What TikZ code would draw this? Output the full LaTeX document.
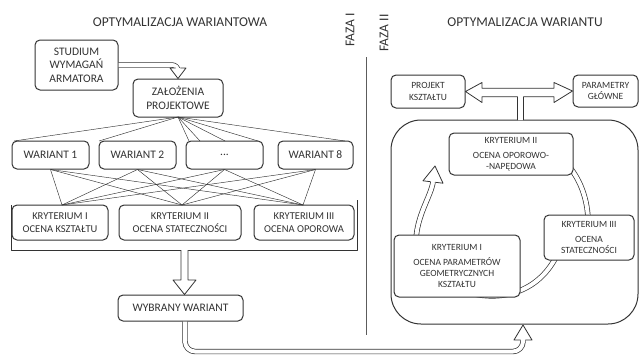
\documentclass[tikz,border=0pt]{standalone}
\usepackage{fontspec}
\setmainfont{Carlito}
\usetikzlibrary{calc}
\definecolor{ink}{HTML}{333333}
\begin{document}
\begin{tikzpicture}[x=1pt,y=-1pt, line join=round,
  box/.style={draw=ink, line width=1pt, rounded corners=5pt, fill=white, align=center, text=ink, inner sep=1pt},
  big/.style={font=\fontsize{11.5}{13.5}\selectfont},
  mid/.style={font=\fontsize{10.5}{12.5}\selectfont},
  sml/.style={font=\fontsize{9.5}{11.2}\selectfont},
  ttl/.style={text=ink, font=\fontsize{13.5}{15}\selectfont},
  web/.style={draw=ink, line width=0.45pt},
  dbl/.style={draw=ink, line width=0.7pt, double=white, double distance=4pt},
  blk/.style={draw=ink, line width=0.8pt}]
\useasboundingbox (0,0) rectangle (642,356);

% titles
\node[ttl] (t1) at (180,22) {OPTYMALIZACJA WARIANTOWA};
\node[ttl] (t2) at (525,22) {OPTYMALIZACJA WARIANTU};
\node[ttl, rotate=90] (f1) at (350,30) {FAZA I};
\node[ttl, rotate=90] (f2) at (384,33) {FAZA II};
\coordinate (d1) at (366,57);
\coordinate (d2) at (366,335);
\draw[ink!80, line width=0.6pt] (d1) -- (d2);

% left boxes
\node[box, big, minimum width=83pt, minimum height=50pt] (stud) at (76.5,65) {STUDIUM\\WYMAGAŃ\\ARMATORA};
\node[box, big, minimum width=90pt, minimum height=38pt] (zal) at (178,98) {ZAŁOŻENIA\\PROJEKTOWE};
\node[box, big, minimum width=77pt, minimum height=28pt] (w1) at (50.5,155) {WARIANT 1};
\node[box, big, minimum width=77pt, minimum height=28pt] (w2) at (137.5,155) {WARIANT 2};
\node[box, big, minimum width=77pt, minimum height=28pt] (w3) at (224.5,155) {...};
\node[box, big, minimum width=75pt, minimum height=28pt] (w8) at (315.5,155) {WARIANT 8};
\node[box, mid, minimum width=96pt, minimum height=35pt] (k1) at (60,222.5) {KRYTERIUM I\\OCENA KSZTAŁTU};
\node[box, mid, minimum width=122pt, minimum height=35pt] (k2) at (180,222.5) {KRYTERIUM II\\OCENA STATECZNOŚCI};
\node[box, mid, minimum width=100pt, minimum height=35pt] (k3) at (304,222.5) {KRYTERIUM III\\OCENA OPOROWA};
\node[box, big, minimum width=125pt, minimum height=26pt] (wyb) at (180.5,308) {WYBRANY WARIANT};

% web lines
\coordinate (ap) at (178,117);
\foreach \px in {14,99,189,200,225,258,345}
  \draw[web] (ap) -- (\px,141);
\coordinate (c1) at (62,205);
\coordinate (c2) at (182,205);
\coordinate (c3) at (303,205);
\foreach \w in {w1,w2,w3,w8}
  \foreach \c in {c1,c2,c3}
    \draw[web] (\w.south) -- (\c);

% frame around criteria
\coordinate (fa) at (11,205);
\coordinate (fb) at (11,250);
\coordinate (fc) at (357,250);
\coordinate (fd) at (357,200);
\draw[ink, line width=0.8pt] (fa) -- (fb) -- (fc) -- (fd);

% arrow studium -> zalozenia
\draw[dbl, rounded corners=6pt] (stud.east) -| (178,68);
\coordinate (zt) at (zal.north);
\fill[white] (170,68) -- (zt) -- (186,68) -- cycle;
\draw[blk] (175.65,68) -- (170,68) -- (zt) -- (186,68) -- (180.35,68);

% block arrow criteria -> wybrany
\coordinate (wt) at ($(wyb.north)+(4,0)$);
\fill[white] (181,250) -- (181,280) -- (173,280) -- (wt) -- (196,280) -- (188,280) -- (188,250) -- cycle;
\draw[blk] (181,250) -- (181,280) -- (173,280) -- (wt) -- (196,280) -- (188,280) -- (188,250);

% right part
\node[box, sml, minimum width=74pt, minimum height=33pt] (proj) at (428,91.5) {PROJEKT\\KSZTAŁTU};
\node[box, sml, minimum width=65pt, minimum height=32pt] (par) at (605.5,91) {PARAMETRY\\GŁÓWNE};
\node[draw=ink, line width=1pt, rounded corners=30pt, minimum width=247pt, minimum height=204pt, fill=white] (bigb) at (514.5,222) {};

% double headed block arrow with stem
\draw[blk, fill=white] (523.5,120) -- (523.5,96.7) -- (554,96.7) -- (554,102.5) -- (par.west) -- (554,82.5) -- (554,88.3) -- (482,88.3) -- (482,82.5) -- (proj.east) -- (482,102.5) -- (482,96.7) -- (517.5,96.7) -- (517.5,120);

% cycle arcs
\draw[dbl] (566,163) .. controls (580,178) and (587,198) .. (588,218);
\draw[dbl] (557,255) .. controls (540,290) and (505,302) .. (470,293);
\draw[dbl] (416,240) .. controls (417,215) and (431,196) .. (433,182);

\node[box, sml, minimum width=124pt, minimum height=42pt] (kII) at (511,154) {KRYTERIUM II\\[4pt]OCENA OPOROWO-\\-NAPĘDOWA};
\node[box, sml, minimum width=90pt, minimum height=45pt] (kIII) at (589,237.5) {KRYTERIUM III\\[4pt]OCENA\\STATECZNOŚCI};
\node[box, sml, minimum width=126pt, minimum height=62pt] (kI) at (457,266) {KRYTERIUM I\\[4pt]OCENA PARAMETRÓW\\GEOMETRYCZNYCH\\KSZTAŁTU};

% cycle arrow head
\coordinate (ct) at (435,166);
\fill[white] (423,180.8) -- (ct) -- (443,183.2) -- cycle;
\draw[blk] (430.65,181.7) -- (423,180.8) -- (ct) -- (443,183.2) -- (435.35,182.3);

% bottom long arrow
\draw[dbl, rounded corners=10pt] ($(wyb.south)+(4.5,0)$) -- (185,351.5) -- (523,351.5) -- (523,340);
\coordinate (bt) at (523,325);
\fill[white] (514,340) -- (bt) -- (532,340) -- cycle;
\draw[blk] (520.65,340) -- (514,340) -- (bt) -- (532,340) -- (525.35,340);
\end{tikzpicture}
\end{document}
